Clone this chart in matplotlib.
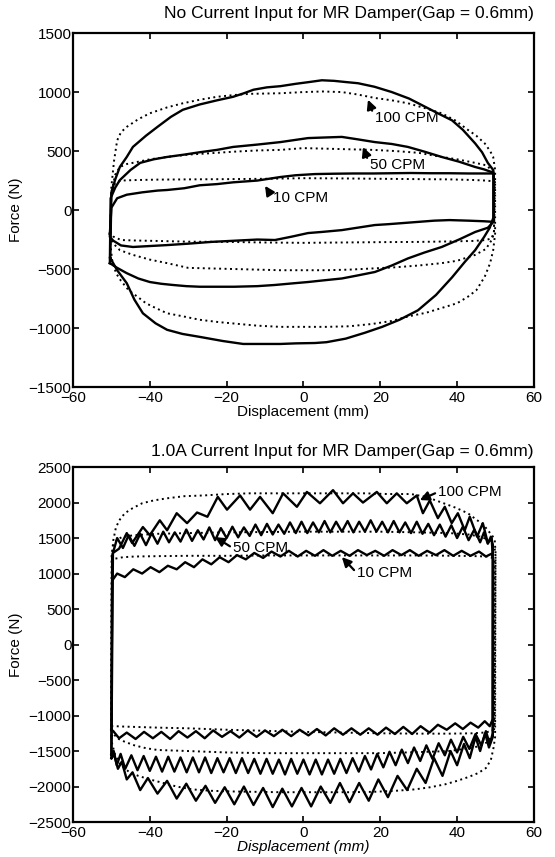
import numpy as np
import matplotlib
matplotlib.use("Agg")
import matplotlib.pyplot as plt

plt.rcParams['font.family'] = ['Liberation Sans', 'DejaVu Sans']

# ---------------- top panel: no current ----------------
# measured loops (solid), upper branch left->right, lower branch right->left
t100_up_x = [-50.3, -50.0, -49.0, -47.8, -46.0, -44.4, -41.0, -38.0, -34.5, -31.4, -27.0, -22.5, -18.3, -15.5, -13.0,
             -9.5, -6.0, -2.0, 1.5, 4.8, 8.0, 11.0, 14.2, 18.5, 23.0, 27.5, 31.7, 35.0, 38.7, 41.5, 44.7, 46.5, 48.0, 49.4]
t100_up_f = [-420, 150, 260, 365, 450, 535, 630, 705, 790, 850, 895, 930, 960, 990, 1020,
             1040, 1050, 1070, 1085, 1100, 1095, 1085, 1075, 1045, 1000, 945, 875, 820, 760, 680, 565, 490, 400, 340]
t100_lo_x = [49.5, 49.5, 48.5, 47.0, 44.7, 42.0, 38.7, 34.5, 29.8, 25.0, 20.5, 16.0, 11.0, 6.0, 3.0, -2.0, -6.0,
             -10.5, -15.7, -21.0, -27.0, -31.5, -35.5, -38.5, -41.8, -44.0, -46.0, -48.5, -50.4]
t100_lo_f = [320, -60, -150, -230, -340, -440, -570, -720, -850, -930, -990, -1040, -1090, -1120, -1127, -1130, -1135,
             -1135, -1135, -1110, -1075, -1050, -1015, -960, -875, -760, -620, -510, -400]

t50_up_x = [-50.4, -50.2, -49.0, -47.8, -45.0, -42.5, -39.0, -35.5, -31.0, -27.0, -22.5, -18.3, -12.0, -6.0, -2.0,
            1.2, 5.5, 10.0, 14.0, 18.6, 23.0, 27.2, 31.5, 36.0, 40.5, 44.7, 47.0, 49.0, 49.5]
t50_up_f = [-450, 100, 190, 254, 340, 400, 430, 450, 470, 490, 510, 535, 555, 576, 595,
            610, 615, 620, 600, 576, 560, 535, 495, 450, 410, 365, 345, 322, 300]
t50_lo_x = [49.5, 49.5, 48.0, 44.7, 40.5, 36.0, 31.5, 27.2, 23.0, 18.6, 14.0, 10.0, 5.5, 1.2, -3.0, -7.4, -12.0,
            -18.0, -22.5, -27.0, -30.5, -34.0, -37.0, -40.0, -43.0, -46.0, -48.5, -50.4]
t50_lo_f = [300, -100, -150, -186, -250, -313, -360, -410, -470, -525, -555, -580, -595, -610, -622, -635, -645,
            -650, -650, -650, -645, -635, -625, -610, -580, -535, -490, -450]

t10_up_x = [-50.4, -50.0, -48.5, -46.0, -42.0, -38.0, -35.5, -31.0, -27.0, -22.5, -18.3, -12.0, -6.0, -2.0, 3.0,
            8.0, 13.0, 18.0, 23.0, 28.0, 33.0, 38.0, 43.0, 47.0, 49.5]
t10_up_f = [-200, 20, 100, 130, 150, 165, 170, 185, 210, 220, 235, 250, 280, 295, 305,
            308, 310, 310, 312, 314, 312, 312, 310, 310, 310]
t10_lo_x = [49.5, 49.5, 47.0, 43.0, 38.0, 34.0, 30.0, 26.0, 22.0, 18.6, 14.0, 10.0, 5.0, 1.2, -3.0, -7.4, -12.0,
            -18.0, -24.0, -30.0, -35.5, -40.0, -44.4, -47.5, -49.5, -50.4]
t10_lo_f = [310, -100, -95, -90, -85, -90, -100, -110, -120, -127, -150, -170, -185, -195, -225, -254, -250,
            -260, -270, -285, -297, -305, -313, -300, -260, -228]

# model loops (dotted)
m100_up_x = [-50.3, -50.0, -49.3, -48.5, -47.5, -46.0, -43.0, -40.0, -35.5, -31.4, -27.0, -22.5, -18.0, -13.9, -6.0,
             0.0, 5.0, 10.0, 14.0, 18.6, 23.0, 27.2, 31.5, 36.0, 39.5, 42.8, 45.0, 47.2, 48.6, 49.4, 49.9]
m100_up_f = [-280, 200, 420, 590, 660, 705, 770, 820, 870, 905, 935, 960, 975, 985, 990,
             1000, 1005, 1000, 980, 950, 930, 905, 865, 820, 760, 680, 630, 565, 500, 450, 340]
m100_lo_x = [49.9, 49.9, 49.4, 48.6, 47.2, 45.0, 42.8, 40.0, 36.0, 32.0, 27.5, 23.0, 18.0, 12.0, 6.0, 0.0, -6.0,
             -12.0, -17.0, -22.0, -27.0, -31.5, -35.5, -38.5, -41.0, -43.0, -45.5, -47.5, -48.8, -49.8, -50.3]
m100_lo_f = [340, -200, -340, -450, -565, -680, -735, -790, -830, -870, -900, -940, -965, -985, -990, -990, -990,
             -980, -965, -950, -930, -900, -875, -830, -790, -740, -680, -600, -535, -425, -280]

m50_up_x = [-50.3, -50.0, -49.0, -47.8, -46.0, -44.4, -40.0, -35.5, -30.0, -25.0, -18.0, -12.0, -6.0, 0.0, 6.0,
            12.0, 18.0, 24.0, 30.0, 36.0, 40.0, 44.7, 47.5, 49.0, 49.8]
m50_up_f = [-254, 150, 300, 365, 390, 400, 430, 450, 470, 480, 495, 505, 510, 525, 520,
            515, 510, 500, 485, 450, 430, 400, 380, 340, 237]
m50_lo_x = [49.8, 49.6, 49.0, 47.5, 44.7, 40.0, 36.0, 30.0, 24.0, 18.0, 12.0, 6.0, 0.0, -6.0, -12.0,
            -18.0, -24.0, -30.0, -35.5, -40.0, -44.4, -47.8, -49.0, -50.0, -50.3]
m50_lo_f = [237, -200, -254, -330, -380, -430, -450, -470, -485, -495, -505, -510, -510, -510, -505,
            -500, -495, -490, -450, -420, -380, -340, -300, -260, -254]

m10_up_x = [-50.3, -50.0, -49.0, -47.5, -44.0, -38.0, -30.0, -20.0, -10.0, 0.0, 10.0, 20.0, 30.0, 38.0, 44.0,
            47.5, 49.0, 49.8]
m10_up_f = [-195, 150, 230, 250, 254, 258, 260, 262, 265, 270, 268, 265, 262, 260, 255, 250, 245, 237]
m10_lo_x = [49.8, 49.6, 49.0, 47.5, 44.0, 38.0, 30.0, 20.0, 10.0, 0.0, -10.0, -20.0, -30.0, -38.0, -44.0,
            -47.5, -49.5, -50.3]
m10_lo_f = [237, -180, -240, -254, -262, -266, -270, -272, -275, -278, -275, -270, -268, -262, -258,
            -254, -225, -195]

# ---------------- bottom panel: 1.0 A ----------------
b100_up_x = [-50.0, -49.6, -48.0, -46.0, -44.6, -41.8, -40.0, -37.4, -35.5, -33.0, -30.3, -27.7, -25.0, -22.3,
             -19.9, -16.5, -13.9, -11.3, -8.0, -5.3, -1.7, 0.9, 4.3, 7.7, 10.3, 12.9, 15.5, 19.1, 21.7, 24.3,
             26.9, 29.5, 31.1, 32.9, 35.0, 36.8, 38.6, 40.2, 42.0, 43.3, 45.2, 46.7, 48.0, 49.0, 49.3]
b100_up_f = [-1600, 1290, 1350, 1570, 1430, 1655, 1540, 1750, 1610, 1850, 1710, 1860, 1800, 2080,
             1900, 2100, 1900, 2080, 1850, 2130, 1940, 2150, 1990, 2175, 1990, 2130, 2000, 2150, 1990, 2130,
             1990, 2100, 1850, 2030, 1780, 1940, 1710, 1850, 1610, 1800, 1520, 1710, 1430, 1500, 1230]
b100_lo_x = [49.3, 48.3, 47.3, 46.0, 44.8, 43.3, 41.8, 40.0, 38.3, 36.2, 34.0, 31.8, 29.5, 27.0, 24.5, 22.0,
             19.5, 17.0, 14.5, 12.0, 9.5, 7.0, 4.5, 2.0, -0.5, -3.0, -5.5, -8.0, -10.5, -13.0, -15.5, -18.0,
             -20.5, -23.0, -25.5, -28.0, -30.5, -33.0, -35.5, -38.0, -40.5, -42.5, -44.5, -46.0, -47.3, -48.3,
             -49.3, -50.0]
b100_lo_f = [-1300, -1450, -1250, -1500, -1300, -1600, -1400, -1700, -1500, -1850, -1600, -1950, -1750, -2050,
             -1850, -2150, -1900, -2200, -1950, -2220, -1950, -2230, -2000, -2280, -2020, -2280, -2030, -2290,
             -2020, -2260, -2000, -2250, -2010, -2230, -1990, -2200, -1960, -2170, -1920, -2100, -1880, -2050,
             -1800, -1900, -1650, -1750, -1550, -1600]

b50_up_x = [-50.0, -49.8, -48.5, -47.0, -45.5, -44.0, -42.5, -41.0, -39.5, -38.0, -36.5, -35.0, -33.5, -32.0,
            -30.5, -29.0, -27.5, -26.0, -24.5, -23.0, -21.5, -20.0, -18.5, -17.0, -15.5, -14.0, -12.5, -11.0,
            -9.5, -8.0, -6.5, -5.0, -3.5, -2.0, -0.5, 1.0, 2.5, 4.0, 5.5, 7.0, 8.5, 10.0, 11.5, 13.0, 14.5,
            16.0, 17.5, 19.0, 20.5, 22.0, 23.5, 25.0, 26.5, 28.0, 29.5, 31.0, 32.5, 34.0, 35.5, 37.0, 38.5,
            40.0, 41.5, 43.0, 44.5, 46.0, 47.0, 48.0, 48.8, 49.3]
b50_up_f = [-1550, 1250, 1500, 1360, 1540, 1390, 1560, 1400, 1570, 1420, 1590, 1440, 1580, 1450,
            1620, 1460, 1610, 1480, 1650, 1470, 1640, 1500, 1660, 1510, 1650, 1530, 1690, 1540,
            1700, 1550, 1690, 1560, 1720, 1570, 1730, 1570, 1720, 1580, 1740, 1580, 1730, 1590, 1740, 1580, 1730,
            1590, 1750, 1590, 1730, 1580, 1740, 1580, 1720, 1570, 1730, 1560, 1700, 1540, 1690, 1520, 1680,
            1500, 1660, 1470, 1620, 1440, 1580, 1420, 1520, 1400]
b50_lo_x = [49.3, 48.5, 47.5, 46.3, 44.8, 43.2, 41.6, 40.0, 38.4, 36.8, 35.2, 33.6, 32.0, 30.4, 28.8, 27.2,
            25.6, 24.0, 22.4, 20.8, 19.2, 17.6, 16.0, 14.4, 12.8, 11.2, 9.6, 8.0, 6.4, 4.8, 3.2, 1.6, 0.0,
            -1.6, -3.2, -4.8, -6.4, -8.0, -9.6, -11.2, -12.8, -14.4, -16.0, -17.6, -19.2, -20.8, -22.4, -24.0,
            -25.6, -27.2, -28.8, -30.4, -32.0, -33.6, -35.2, -36.8, -38.4, -40.0, -41.6, -43.2, -44.8, -46.4,
            -47.6, -48.6, -49.4, -50.0]
b50_lo_f = [-1250, -1400, -1220, -1420, -1260, -1470, -1300, -1520, -1340, -1560, -1390, -1610, -1420, -1640,
            -1450, -1670, -1480, -1700, -1510, -1730, -1540, -1760, -1570, -1790, -1600, -1810, -1610, -1820,
            -1620, -1830, -1620, -1830, -1620, -1820, -1610, -1830, -1620, -1820, -1610, -1820, -1610, -1810,
            -1600, -1810, -1600, -1800, -1600, -1810, -1590, -1800, -1590, -1800, -1590, -1790, -1580, -1790,
            -1580, -1780, -1570, -1770, -1560, -1750, -1540, -1700, -1500, -1550]

b10_up_x = [-50.0, -49.8, -48.5, -46.5, -44.3, -42.0, -39.8, -37.5, -35.3, -33.0, -30.8, -28.5, -26.3, -24.0,
            -21.8, -19.5, -17.3, -15.0, -12.8, -10.5, -8.3, -6.0, -3.8, -1.5, 0.7, 3.0, 5.2, 7.5, 9.7, 12.0,
            14.2, 16.5, 18.7, 21.0, 23.2, 25.5, 27.7, 30.0, 32.2, 34.5, 36.7, 39.0, 41.2, 43.5, 45.7, 47.5,
            49.0, 49.4]
b10_up_f = [-1200, 900, 1000, 950, 1060, 1000, 1090, 1020, 1110, 1060, 1160, 1090, 1200, 1130,
            1230, 1160, 1260, 1200, 1290, 1220, 1310, 1240, 1320, 1240, 1320, 1250, 1330, 1250, 1320, 1250,
            1330, 1260, 1320, 1250, 1330, 1260, 1330, 1250, 1320, 1260, 1330, 1250, 1320, 1250, 1310, 1240,
            1280, 1200]
b10_lo_x = [49.3, 48.5, 47.2, 45.5, 43.5, 41.5, 39.5, 37.3, 35.0, 32.8, 30.5, 28.3, 26.0, 23.8, 21.5, 19.3,
            17.0, 14.8, 12.5, 10.3, 8.0, 5.8, 3.5, 1.3, -1.0, -3.2, -5.5, -7.7, -10.0, -12.2, -14.5, -16.7,
            -19.0, -21.2, -23.5, -25.7, -28.0, -30.2, -32.5, -34.7, -37.0, -39.2, -41.5, -43.7, -46.0, -48.0,
            -49.5, -50.0]
b10_lo_f = [-1050, -1150, -1080, -1170, -1100, -1190, -1110, -1200, -1130, -1240, -1150, -1260, -1160, -1260,
            -1170, -1270, -1180, -1270, -1180, -1270, -1180, -1280, -1190, -1280, -1200, -1290, -1200, -1290,
            -1210, -1300, -1210, -1310, -1220, -1300, -1210, -1320, -1220, -1310, -1220, -1330, -1230, -1320,
            -1230, -1330, -1240, -1320, -1220, -1200]

n100_up_x = [-50.0, -49.9, -49.5, -48.8, -47.8, -46.5, -44.5, -42.0, -39.0, -35.5, -31.0, -26.0, -20.0, -14.0,
             -8.0, -2.0, 4.0, 10.0, 16.0, 22.0, 28.0, 32.0, 36.0, 39.5, 42.8, 45.0, 46.8, 48.0, 49.2, 49.8, 50.0]
n100_up_f = [-1300, 1250, 1470, 1655, 1760, 1850, 1920, 1990, 2030, 2060, 2090, 2100, 2120, 2130,
             2130, 2130, 2130, 2130, 2130, 2120, 2120, 2080, 2000, 1930, 1850, 1760, 1690, 1610, 1530, 1470, 1300]
n100_lo_x = [50.0, 49.9, 49.5, 48.8, 47.5, 45.5, 43.0, 40.0, 36.8, 33.0, 29.0, 24.0, 18.0, 12.0, 6.0, 0.0,
             -6.0, -12.0, -18.0, -24.0, -29.0, -33.0, -36.5, -40.0, -43.0, -45.5, -47.5, -49.0, -49.8, -50.0]
n100_lo_f = [1300, -1300, -1450, -1625, -1740, -1810, -1865, -1920, -1970, -2010, -2040, -2060, -2075, -2080,
             -2080, -2080, -2080, -2075, -2070, -2060, -2040, -2000, -1950, -1900, -1850, -1790, -1700, -1560,
             -1400, -1300]

n50_up_x = [-50.0, -49.9, -49.5, -48.5, -47.0, -44.0, -38.0, -30.0, -20.0, -10.0, 0.0, 10.0, 20.0, 30.0,
            38.0, 43.0, 46.0, 48.0, 49.2, 49.8, 50.0]
n50_up_f = [-1300, 1250, 1400, 1480, 1520, 1540, 1560, 1570, 1580, 1585, 1590, 1590, 1590, 1580,
            1570, 1550, 1520, 1480, 1420, 1350, 1250]
n50_lo_x = [50.0, 49.8, 49.3, 48.0, 46.0, 43.0, 38.0, 30.0, 20.0, 10.0, 0.0, -10.0, -20.0, -30.0, -38.0,
            -41.0, -44.0, -46.5, -48.5, -49.5, -50.0]
n50_lo_f = [1250, -1160, -1270, -1370, -1430, -1460, -1500, -1515, -1530, -1530, -1530, -1530, -1520, -1500,
            -1485, -1460, -1420, -1370, -1320, -1250, -1300]

n10_up_x = [-50.0, -49.8, -49.0, -47.0, -44.0, -38.0, -30.0, -20.0, -10.0, 0.0, 10.0, 20.0, 30.0, 40.0, 45.0,
            48.0, 49.3, 49.8]
n10_up_f = [-1150, 1150, 1210, 1230, 1240, 1245, 1250, 1250, 1255, 1255, 1255, 1255, 1255, 1250, 1245,
            1240, 1220, 1180]
n10_lo_x = [49.8, 49.6, 49.0, 47.0, 44.0, 38.0, 30.0, 20.0, 10.0, 0.0, -10.0, -20.0, -30.0, -38.0, -44.0,
            -47.0, -49.0, -49.8, -50.0]
n10_lo_f = [1180, -1180, -1220, -1240, -1250, -1255, -1255, -1250, -1240, -1230, -1215, -1200, -1180, -1170,
            -1160, -1155, -1150, -1150, -1150]

x_ticks = [-60, -40, -20, 0, 20, 40, 60]
top_yticks = [-1500, -1000, -500, 0, 500, 1000, 1500]
bot_yticks = [-2500, -2000, -1500, -1000, -500, 0, 500, 1000, 1500, 2000, 2500]


def loop(ax, ux, uf, lx, lf, **kw):
    x = np.concatenate([ux, lx, ux[:1]])
    f = np.concatenate([uf, lf, uf[:1]])
    ax.plot(x, f, color='black', **kw)


def style(ax, yticks):
    ax.set_xlim(-60, 60)
    ax.set_ylim(yticks[0], yticks[-1])
    ax.set_xticks(x_ticks)
    ax.set_yticks(yticks)
    ax.tick_params(direction='in', top=True, right=True, length=4, width=1.2,
                   labelsize=11)
    ax.tick_params(axis='y', pad=1)
    ax.tick_params(axis='x', pad=3)
    for s in ax.spines.values():
        s.set_linewidth(1.6)
    ax.set_ylabel('Force (N)', fontsize=11, labelpad=4)


fig = plt.figure(figsize=(5.55, 8.57), dpi=100)
ax1 = fig.add_axes([0.1315, 0.5484, 0.8305, 0.4130])
ax2 = fig.add_axes([0.1315, 0.0408, 0.8305, 0.4142])

solid = dict(lw=1.7, linestyle='-')
dot = dict(lw=1.4, linestyle=(0, (1, 1.8)))

loop(ax1, t100_up_x, t100_up_f, t100_lo_x, t100_lo_f, **solid)
loop(ax1, t50_up_x, t50_up_f, t50_lo_x, t50_lo_f, **solid)
loop(ax1, t10_up_x, t10_up_f, t10_lo_x, t10_lo_f, **solid)
loop(ax1, m100_up_x, m100_up_f, m100_lo_x, m100_lo_f, **dot)
loop(ax1, m50_up_x, m50_up_f, m50_lo_x, m50_lo_f, **dot)
loop(ax1, m10_up_x, m10_up_f, m10_lo_x, m10_lo_f, **dot)

loop(ax2, b100_up_x, b100_up_f, b100_lo_x, b100_lo_f, **solid)
loop(ax2, b50_up_x, b50_up_f, b50_lo_x, b50_lo_f, **solid)
loop(ax2, b10_up_x, b10_up_f, b10_lo_x, b10_lo_f, **solid)
loop(ax2, n100_up_x, n100_up_f, n100_lo_x, n100_lo_f, **dot)
loop(ax2, n50_up_x, n50_up_f, n50_lo_x, n50_lo_f, **dot)
loop(ax2, n10_up_x, n10_up_f, n10_lo_x, n10_lo_f, **dot)

style(ax1, top_yticks)
style(ax2, bot_yticks)

ax1.set_xlabel('Displacement (mm)', fontsize=11, labelpad=0)
ax2.set_xlabel('Displacement (mm)', fontsize=11, labelpad=0, style='italic')
ax1.set_title('No Current Input for MR Damper(Gap = 0.6mm)', loc='right', fontsize=12.5, pad=11)
ax2.set_title('1.0A Current Input for MR Damper(Gap = 0.6mm)', loc='right', fontsize=12.5, pad=8)

arrow = dict(arrowstyle='-|>,head_length=0.5,head_width=0.25', color='black', lw=1.6,
             shrinkA=0, shrinkB=0, relpos=(0.0, 0.5))
ax1.annotate('100 CPM', xy=(16.8, 935), xytext=(18.6, 780), ha='left', va='center',
             fontsize=11, arrowprops=arrow)
ax1.annotate('50 CPM', xy=(15.5, 534), xytext=(17.3, 381), ha='left', va='center',
             fontsize=11, arrowprops=arrow)
ax1.annotate('10 CPM', xy=(-10.0, 205), xytext=(-7.9, 100), ha='left', va='center',
             fontsize=11, arrowprops=arrow)

ax2.annotate('100 CPM', xy=(30.3, 2035), xytext=(35.0, 2148), ha='left', va='center',
             fontsize=11, arrowprops=arrow)
ax2.annotate('50 CPM', xy=(-23.0, 1514), xytext=(-18.4, 1359), ha='left', va='center',
             fontsize=11, arrowprops=arrow)
ax2.annotate('10 CPM', xy=(10.0, 1232), xytext=(13.9, 1007), ha='left', va='center',
             fontsize=11, arrowprops=arrow)

fig.savefig('out.png', dpi=100)
